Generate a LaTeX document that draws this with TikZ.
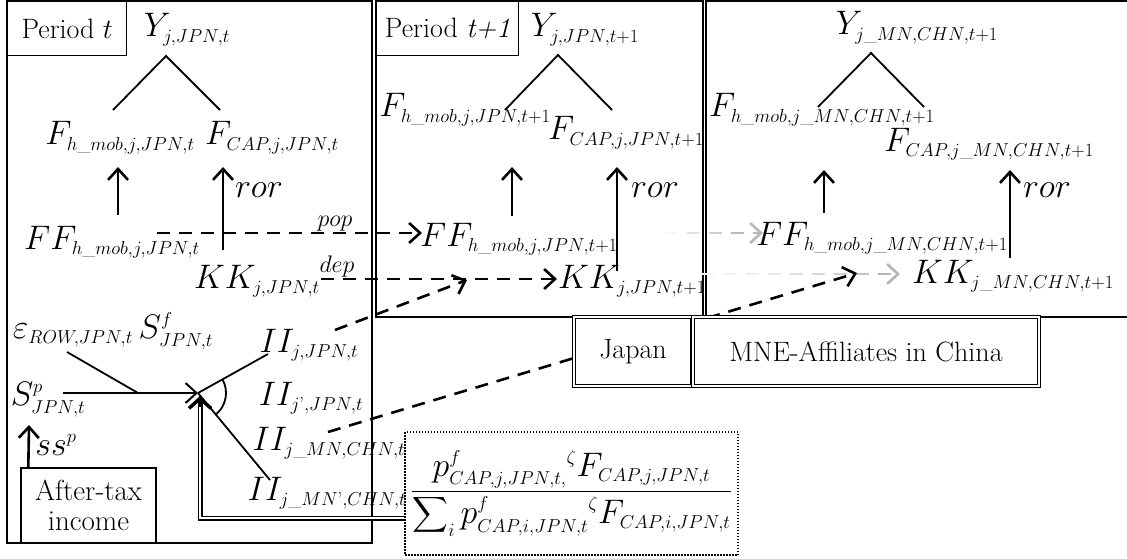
\RequirePackage{fix-cm}
\documentclass[tikz,border=0pt]{standalone}
\usepackage{amsmath}
\usetikzlibrary{arrows.meta,calc}
\DeclareMathSizes{34}{34}{18.7}{15}
\DeclareMathSizes{24}{24}{14}{11}
\begin{document}
\begin{tikzpicture}[x=1pt, y=-1pt, >={Straight Barb[length=11pt,width=20pt]},
    every node/.style={font=\fontsize{34}{38}\selectfont, inner sep=1pt, anchor=base},
    txt/.style={font=\fontsize{28}{32}\selectfont},
    small/.style={font=\fontsize{24}{28}\selectfont},
    frame/.style={line width=1.8pt},
    tag/.style={draw, txt, line width=1.4pt, anchor=north west, inner sep=0pt},
    dbox/.style={draw, txt, double, double distance=2pt, line width=1.2pt, fill=white, anchor=center, inner sep=0pt},
    tree/.style={line width=1.8pt},
    up/.style={->, line width=2.6pt},
    dsh/.style={line width=2.6pt, dash pattern=on 13pt off 9pt},
    dbl/.style={double, double distance=2.2pt, line width=1.4pt}]
    \fill[white] (0,0) rectangle (1127,559);
    \useasboundingbox (0,0) rectangle (1127,559);

    \draw[frame] (7,1) rectangle (372,543);
    \draw[frame] (376,1) rectangle (703,317);
    \draw[frame] (1130,1) -- (706,1) -- (706,317) -- (1130,317);

    % period t
    \node[tag, minimum width=119pt, minimum height=54pt] (pert) at (7,1) {Period $t$};
    \node (yt) at (187,37) {$Y_{j,JPN,t}$};
    \node (fht) at (120,145) {$F_{h\_mob,j,JPN,t}$};
    \node (fct) at (272,145) {$F_{CAP,j,JPN,t}$};
    \node (fft) at (112,249) {$FF_{h\_mob,j,JPN,t}$};
    \node (kkt) at (257,288) {$KK_{j,JPN,t}$};
    \node (ror1) at (259,197) {$ror$};
    \node (eps) at (113,338) {$\varepsilon_{ROW,JPN,t}\,S^{f}_{JPN,t}$};
    \node (iijt) at (309,352) {$II_{j,JPN,t}$};
    \node (iij2) at (311,405) {$II_{j\text{'},JPN,t}$};
    \node (iimn) at (329,450) {$II_{j\_MN,CHN,t}$};
    \node (iimn2) at (327,500) {$II_{j\_MN\text{'},CHN,t}$};
    \node (sp) at (48,405) {$S^{p}_{JPN,t}$};
    \node (ssp) at (56,455) {$ss^{p}$};
    \node[draw, align=center, anchor=center, minimum width=135pt, minimum height=75pt, inner sep=0pt, line width=1.4pt, font=\fontsize{29}{30}\selectfont] (atax) at (88.5,505.5) {After-tax\\income};

    % period t+1
    \node[tag, minimum width=142pt, minimum height=54pt] (pert1) at (376,1) {Period \textit{t+1}};
    \node (yt1) at (585,37) {$Y_{j,JPN,t+1}$};
    \node (fht1) at (465,117) {$F_{h\_mob,j,JPN,t+1}$};
    \node (fct1) at (626,140) {$F_{CAP,j,JPN,t+1}$};
    \node (fft1) at (519,246) {$FF_{h\_mob,j,JPN,t+1}$};
    \node (kkt1) at (632,288) {$KK_{j,JPN,t+1}$};
    \node (ror2) at (655,197) {$ror$};

    % affiliates
    \node (ymn) at (917,35) {$Y_{j\_MN,CHN,t+1}$};
    \node (fhmn) at (822,117) {$F_{h\_mob,j\_MN,CHN,t+1}$};
    \node (fcmn) at (989,151) {$F_{CAP,j\_MN,CHN,t+1}$};
    \node (ffmn) at (882,245) {$FF_{h\_mob,j\_MN,CHN,t+1}$};
    \node (kkmn) at (1013,283) {$KK_{j\_MN,CHN,t+1}$};
    \node (ror3) at (1047,197) {$ror$};

    \node[draw, dash pattern=on 1.5pt off 1.5pt, line width=1.5pt, anchor=center, minimum width=333pt, minimum height=123pt, inner sep=0pt] (frac) at (571.5,493.5)
        {$\dfrac{p^{f}_{CAP,j,JPN,t,}{}^{\zeta}F_{CAP,j,JPN,t}}{\displaystyle\sum\nolimits_{i}p^{f}_{CAP,i,JPN,t}{}^{\zeta}F_{CAP,i,JPN,t}}$};

    \draw[tree] ($(fht.base)+(-7,-35)$) -- ($(yt.base)+(-21,19)$) -- ($(fct.base)+(-52,-35)$);
    \draw[up] ($(fft.base)+(6,-34)$) -- ($(fht.base)+(-2,22)$);
    \draw[up] ($(kkt.base)+(-34,-38)$) -- ($(fct.base)+(-49,22)$);
    \draw[tree] ($(fht1.base)+(40,-7)$) -- ($(yt1.base)+(-27,18)$) -- ($(fct1.base)+(-14,-30)$);
    \draw[up] ($(fft1.base)+(-7,-30)$) -- ($(fht1.base)+(47,50)$);
    \draw[up] ($(kkt1.base)+(-15,-17)$) -- ($(fct1.base)+(-9,27)$);
    \draw[tree] ($(fhmn.base)+(-4,-10)$) -- ($(ymn.base)+(-46,18)$) -- ($(fcmn.base)+(-65,-44)$);
    \draw[up] ($(ffmn.base)+(-58,-32)$) -- ($(fhmn.base)+(2,53)$);
    \draw[up] ($(kkmn.base)+(-3,-25)$) -- ($(fcmn.base)+(21,19)$);

    \coordinate (hub) at (198,393);
    \draw[->, line width=2pt] ($(sp.base)+(15,-12)$) -- (hub);
    \draw[tree] ($(eps.base)+(-46,14)$) -- ($(sp.base)+(90,-12)$);
    \draw[tree] (hub) -- ($(iijt.base)+(-41,2)$);
    \draw[tree] (hub) -- ($(iimn2.base)+(-57,-20)$);
    \draw[tree] (hub) ++(-30:28) arc[start angle=-30, end angle=50, radius=28];
    \draw[dbl] ($(frac.west)+(0,24.5)$) -| ($(hub)+(2,8)$);
    \draw[-{Straight Barb[length=10pt,width=22pt,line width=3.5pt]}, line width=3pt] ($(hub)+(2,14)$) -- ($(hub)+(2,3)$);
    \draw[up] ($(atax.north west)+(8,0)$) -- ($(sp.base)+(-19,20)$);

    \draw[dsh,->] ($(fft.base)+(45,-16)$) -- ($(fft1.base)+(-97,-13)$);
    \draw[dsh,->] ($(kkt.base)+(64,-9)$) -- ($(kkt1.base)+(-75,-9)$);
    \node[small] (pop) at (335,226) {$pop$};
    \node[small] (dep) at (337,272) {$dep$};
    \foreach \g [count=\i from 0] in {8,22,38}
        \draw[dsh, gray!\g] ($(fft1.base)+(146+22*\i,-13)$) -- ++(22,0);
    \draw[dsh, gray!55, ->] ($(fft1.base)+(212,-13)$) -- ($(ffmn.base)+(-119,-12)$);
    \foreach \g [count=\i from 0] in {6,10,14,18,24,30,38,46}
        \draw[dsh, gray!\g] ($(kkt1.base)+(70+22*\i,-14)$) -- ++(22,0);
    \draw[dsh, gray!58, ->] ($(kkt1.base)+(246,-14)$) -- ($(kkmn.base)+(-113,-9)$);
    \draw[dsh,->] ($(iijt.base)+(26,-22)$) -- ($(kkt1.base)+(-165,-8)$);
    \draw[dsh,->] ($(iimn.base)+(-1,-18)$) -- ($(kkmn.base)+(-156,-10)$);

    \node[dbox, minimum width=118pt, minimum height=69pt] (japan) at (633,351.5) {Japan};
    \node[dbox, minimum width=346pt, minimum height=69pt] (mne) at (866,351.5) {MNE-Affiliates in China};
\end{tikzpicture}
\end{document}
